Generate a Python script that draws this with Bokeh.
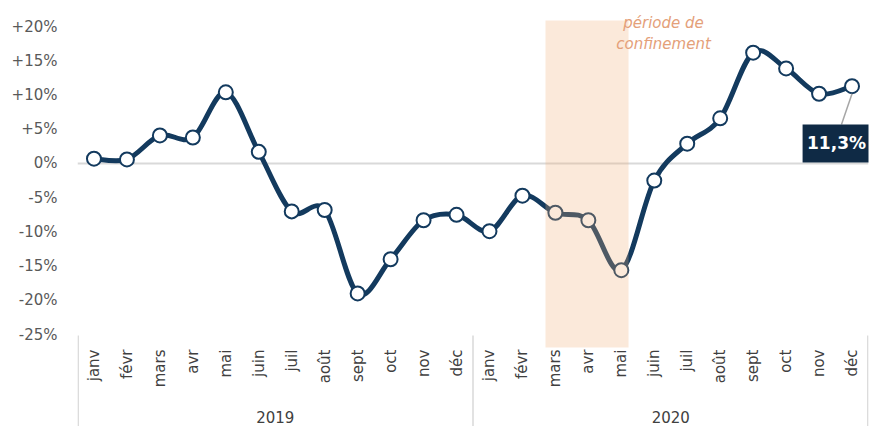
import math
from bokeh.plotting import figure
from bokeh.models import FactorRange, Range1d, FixedTicker, Span
from bokeh.core.properties import value
from bokeh.embed import file_html
from bokeh.resources import INLINE

# ---------------- data ----------------
years = ["2019", "2020"]
months = ["janv", "févr", "mars", "avr", "mai", "juin",
          "juil", "août", "sept", "oct", "nov", "déc"]
values_2019 = [0.7, 0.6, 4.1, 3.8, 10.4, 1.7, -7.0, -6.8, -19.0, -14.0, -8.3, -7.5]
values_2020 = [-9.9, -4.7, -7.2, -8.3, -15.6, -2.5, 2.9, 6.6, 16.2, 13.9, 10.2, 11.3]
y_ticks = [-25, -20, -15, -10, -5, 0, 5, 10, 15, 20]
y_tick_labels = ["-25%", "-20%", "-15%", "-10%", "-5%", "0%", "+5%", "+10%", "+15%", "+20%"]
lockdown_first = ("2020", "mars")
lockdown_last = ("2020", "mai")
lockdown_text = ["période de", "confinement"]

# ---------------- styles ----------------
NAVY = "#133a5e"
BOX = "#0f2a45"
GRID = "#d9d9d9"
FONT = "DejaVu Sans"
Y_MIN, Y_MAX = -38.45, 23.83
MONTH_LABEL_Y = -27.2
YEAR_LABEL_Y = -37.0
SEP_TOP = -25.15
SHADE_TOP, SHADE_BOTTOM = 20.9, -26.9
BOX_TOP, BOX_BOTTOM = 5.7, 0.15

factors = [(y, m) for y in years for m in months]
vals = values_2019 + values_2020
n = len(vals)

p = figure(width=873, height=426, x_range=FactorRange(*factors, factor_padding=0,
           group_padding=0, subgroup_padding=0, range_padding=0),
           y_range=Range1d(Y_MIN, Y_MAX), x_axis_location=None,
           output_backend="svg", toolbar_location=None,
           min_border_left=77, min_border_right=5, min_border_top=0, min_border_bottom=0)
p.outline_line_color = None
p.xgrid.visible = False
p.ygrid.visible = False
p.background_fill_color = "white"
p.border_fill_color = "white"

ax = p.yaxis[0]
ax.ticker = FixedTicker(ticks=y_ticks)
ax.major_label_overrides = {t: l for t, l in zip(y_ticks, y_tick_labels)}
ax.axis_line_color = None
ax.major_tick_line_color = None
ax.minor_tick_line_color = None
ax.major_tick_out = 0
ax.major_tick_in = 0
ax.major_label_standoff = 20
ax.major_label_text_font = FONT
ax.major_label_text_font_size = "15px"
ax.major_label_text_color = "#595959"

# zero line
p.add_layout(Span(location=0, dimension="width", line_color=GRID, line_width=2, level="underlay"))

# group separators
sep_x = [(years[0], months[0], -0.48), (years[1], months[0], -0.5), (years[1], months[-1], 0.48)]
p.segment(x0=sep_x, x1=sep_x, y0=[SEP_TOP] * 3, y1=[Y_MIN] * 3, line_color=GRID, line_width=1.5)

# month & year labels
p.text(x=factors, y=[MONTH_LABEL_Y] * n, text=[f[1] for f in factors], angle=math.pi / 2,
       text_align="right", text_baseline="middle", text_font=value(FONT),
       text_font_size="15px", text_color="#404040")
p.text(x=years, y=[YEAR_LABEL_Y] * len(years), text=years, text_align="center",
       text_baseline="alphabetic", text_font=value(FONT), text_font_size="15px",
       text_color="#404040")

# smooth curve (Catmull-Rom style Bezier through the points)
x0, y0, x1, y1, cx0, cy0, cx1, cy1 = [], [], [], [], [], [], [], []
for i in range(n - 1):
    a = max(i - 1, 0)
    d = min(i + 2, n - 1)
    fi, fj = factors[i], factors[i + 1]
    x0.append(fi); y0.append(vals[i])
    x1.append(fj); y1.append(vals[i + 1])
    cx0.append((fi[0], fi[1], (i + 1 - a) / 6))
    cy0.append(vals[i] + (vals[i + 1] - vals[a]) / 6)
    cx1.append((fj[0], fj[1], -(d - i) / 6))
    cy1.append(vals[i + 1] - (vals[d] - vals[i]) / 6)
p.bezier(x0=x0, y0=y0, x1=x1, y1=y1, cx0=cx0, cy0=cy0, cx1=cx1, cy1=cy1,
         line_color=NAVY, line_width=5, line_cap="round")
p.scatter(x=factors, y=vals, size=14, fill_color="white", line_color=NAVY, line_width=2)

# lockdown shading (translucent overlay)
p.quad(left=[(lockdown_first[0], lockdown_first[1], -0.3)],
       right=[(lockdown_last[0], lockdown_last[1], 0.22)],
       top=[SHADE_TOP], bottom=[SHADE_BOTTOM],
       fill_color="#f0af78", fill_alpha=0.27, line_color=None)
p.text(x=[("2020", "juin", 0.28)] * 2, y=[20.6, 17.4], text=lockdown_text,
       text_align="center", text_baseline="middle", text_font=value(FONT),
       text_font_style="italic", text_font_size="15px", text_color="#e4a079")

# data label for the last point
last_f = factors[-1]
last_v = vals[-1]
p.segment(x0=[(last_f[0], last_f[1], 0)], y0=[last_v - 1.1],
          x1=[(last_f[0], last_f[1], -0.32)], y1=[BOX_TOP],
          line_color="#a6a6a6", line_width=1.5)
p.quad(left=[(last_f[0], last_f[1], -1.5)], right=[(last_f[0], last_f[1], 0.62)],
       top=[BOX_TOP], bottom=[BOX_BOTTOM], fill_color=BOX, line_color=None)
p.text(x=[(last_f[0], last_f[1], -0.47)], y=[(BOX_TOP + BOX_BOTTOM) / 2],
       text=[f"{last_v:.1f}".replace(".", ",") + "%"], text_align="center",
       text_baseline="middle", text_font=value(FONT), text_font_style="bold",
       text_font_size="17px", text_color="white")

open("out.html", "w").write(file_html(p, INLINE))
